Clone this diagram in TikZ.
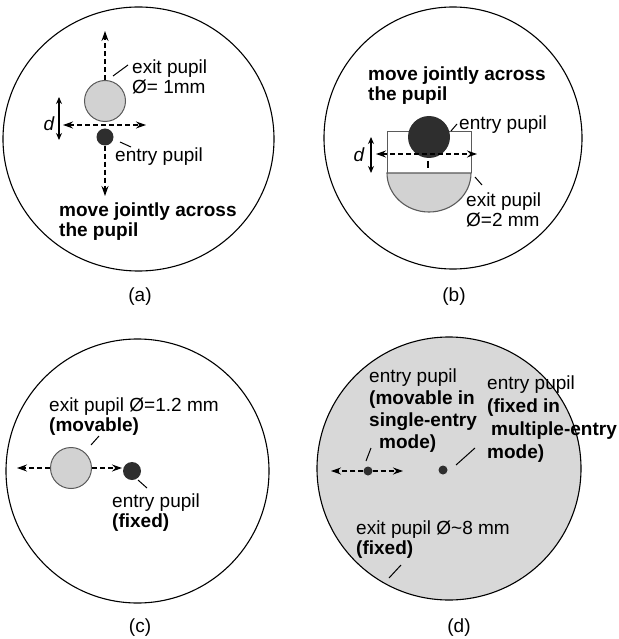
\documentclass[tikz,border=0pt]{standalone}
\usepackage{fontspec}
\setmainfont{Liberation Sans}
\usetikzlibrary{arrows.meta}
\definecolor{exitgray}{HTML}{D2D2D2}
\definecolor{bigfill}{HTML}{D8D8D8}
\definecolor{darkpupil}{HTML}{2E2E2E}
\definecolor{rimgray}{HTML}{5A5A5A}
\begin{document}
\begin{tikzpicture}[x=1pt,y=-1pt,
  lbl/.style={anchor=base west, inner sep=0, align=left, font=\fontsize{19}{20}\selectfont},
  capt/.style={inner sep=0, font=\fontsize{19}{20}\selectfont},
  outer/.style={draw=black, line width=1.1},
  exitp/.style={circle, draw=rimgray, fill=exitgray, line width=1, inner sep=0},
  entryp/.style={circle, fill=darkpupil, inner sep=0},
  dasharrow/.style={line width=1.1, dash pattern=on 5pt off 3pt},
  onetip/.style={-{Stealth[length=10,width=7]}},
  twotip/.style={{Stealth[length=10,width=7]}-{Stealth[length=10,width=7]}},
  darr/.style={line width=1.2, {Stealth[length=7,width=6]}-{Stealth[length=7,width=6]}},
  leader/.style={line width=1},
]
\useasboundingbox (0,0) rectangle (618,639);

% ---------------- (a) ----------------
\draw[outer] (138.5,139) ellipse [x radius=135.5, y radius=132];
\node[exitp, minimum size=41] (aex) at (105,101) {};
\node[entryp, minimum size=17] (aen) at (105,137) {};
\coordinate (aup) at (105,31);
\coordinate (adown) at (105,196);
\coordinate (ahl) at (63,125);
\coordinate (ahr) at (146,125);
\draw[dasharrow, onetip] (aex.north) -- (aup);
\draw[dasharrow, onetip] (aen.south) -- (adown);
\draw[dasharrow, twotip] (ahl) -- (ahr);
\coordinate (adt) at (59,97);
\coordinate (adb) at (59,140);
\draw[darr] (adt) -- (adb);
\node[capt, font=\fontsize{19}{20}\selectfont\itshape] (ad) at (49,124) {d};
\node[lbl] (aexl) at (132,94) {exit pupil\\Ø= 1mm};
\coordinate (aexa) at (113,76);
\coordinate (aexb) at (128,65);
\draw[leader] (aexa) -- (aexb);
\node[lbl] (aenl) at (115,161) {entry pupil};
\coordinate (aena) at (120,142);
\coordinate (aenb) at (131,147);
\draw[leader] (aena) -- (aenb);
\node[lbl, font=\fontsize{19}{20}\selectfont\bfseries] (amove) at (59,236) {move jointly across\\the pupil};
\node[capt] (acap) at (140,297) {(a)};

% ---------------- (b) ----------------
\draw[outer] (453,138) ellipse [x radius=129, y radius=131];
\node[lbl, font=\fontsize{19}{20}\selectfont\bfseries] (bmove) at (368,101) {move jointly across\\the pupil};
\draw[rimgray, line width=0.8] (387,173) -- (387,131) -- (471,131) -- (471,173);
\path[fill=exitgray, draw=rimgray, line width=1.1] (387,173) arc[start angle=180, end angle=0, x radius=42, y radius=39] -- cycle;
\node[entryp, minimum size=42] (ben) at (429,137) {};
\coordinate (bhl) at (376,154);
\coordinate (bhr) at (477,154);
\draw[dasharrow, twotip] (bhl) -- (bhr);
\coordinate (bta) at (428,161);
\coordinate (btb) at (428,168);
\draw[line width=1.1] (bta) -- (btb);
\coordinate (bdt) at (371,137);
\coordinate (bdb) at (371,173);
\draw[darr] (bdt) -- (bdb);
\node[capt, font=\fontsize{19}{20}\selectfont\itshape] (bd) at (359,155) {d};
\node[lbl] (benl) at (459,130) {entry pupil};
\coordinate (bena) at (451,131);
\coordinate (benb) at (457,124);
\draw[leader] (bena) -- (benb);
\node[lbl] (bexl) at (466,226) {exit pupil\\Ø=2 mm};
\coordinate (bexa) at (475,177);
\coordinate (bexb) at (482,185);
\draw[leader] (bexa) -- (bexb);
\node[capt] (bcap) at (454,297) {(b)};

% ---------------- (c) ----------------
\draw[outer] (137.5,471) ellipse [x radius=131.5, y radius=132];
\node[exitp, minimum size=41] (cex) at (71,468) {};
\node[entryp, minimum size=18] (cen) at (132,471) {};
\coordinate (cl) at (17,468);
\coordinate (cr) at (122,468);
\draw[dasharrow, onetip] (cex.west) -- (cl);
\draw[dasharrow, onetip] (cex.east) -- (cr);
\node[lbl] (cexl) at (49,431) {exit pupil Ø=1.2 mm\\\textbf{(movable)}};
\coordinate (cexa) at (91,445);
\coordinate (cexb) at (99,436);
\draw[leader] (cexa) -- (cexb);
\node[lbl] (cenl) at (112,527) {entry pupil\\\textbf{(fixed)}};
\coordinate (cena) at (138,480);
\coordinate (cenb) at (147,488);
\draw[leader] (cena) -- (cenb);
\node[capt] (ccap) at (140,628) {(c)};

% ---------------- (d) ----------------
\draw[outer, fill=bigfill] (449,468.5) ellipse [x radius=132, y radius=131.5];
\node[entryp, minimum size=9] (dmv) at (368,471) {};
\node[entryp, minimum size=9] (dfx) at (443,470) {};
\coordinate (dl) at (331,471);
\coordinate (dr) at (403,471);
\draw[dasharrow, onetip] (dmv.west) -- (dl);
\draw[dasharrow, onetip] (dmv.east) -- (dr);
\node[lbl, font=\fontsize{19}{22}\selectfont] (dmvl) at (369,448) {entry pupil\\\textbf{(movable in}\\\textbf{single-entry}\\\hspace{10pt}\textbf{mode)}};
\coordinate (dmva) at (366,461);
\coordinate (dmvb) at (371,448);
\draw[leader] (dmva) -- (dmvb);
\node[lbl, font=\fontsize{19}{23}\selectfont] (dfxl) at (487,458) {entry pupil\\\textbf{(fixed in}\\\hspace{4pt}\textbf{multiple-entry}\\\textbf{mode)}};
\coordinate (dfxa) at (456,465);
\coordinate (dfxb) at (475,448);
\draw[leader] (dfxa) -- (dfxb);
\node[lbl] (dexl) at (356,554) {exit pupil Ø\textasciitilde 8 mm\\\textbf{(fixed)}};
\coordinate (dexa) at (389,578);
\coordinate (dexb) at (401,565);
\draw[leader] (dexa) -- (dexb);
\node[capt] (dcap) at (459,628) {(d)};
\end{tikzpicture}
\end{document}
